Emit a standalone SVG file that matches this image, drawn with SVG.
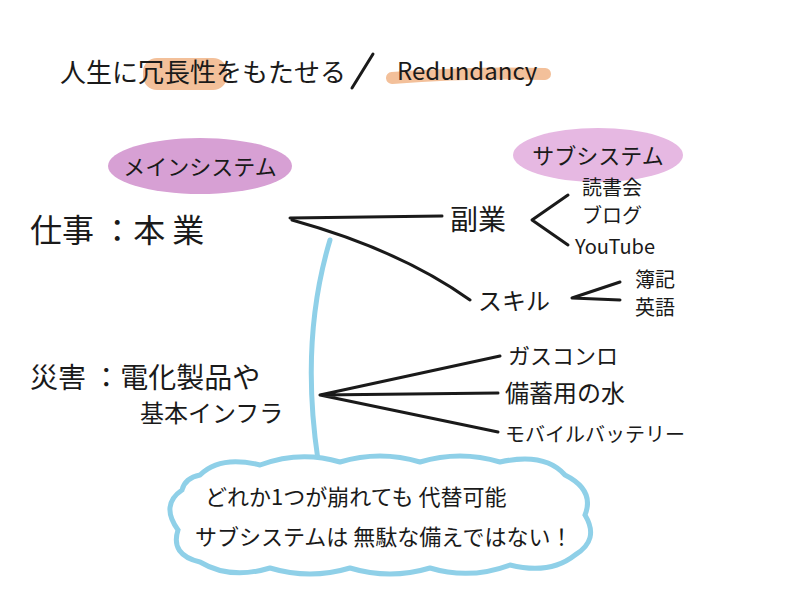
<svg xmlns="http://www.w3.org/2000/svg" width="800" height="600" viewBox="0 0 800 600">
<style>
.t{font-family:"Noto Sans CJK JP","Noto Sans",sans-serif;fill:#1a1a1a}
.l{stroke:#1a1a1a;stroke-width:3;fill:none;stroke-linecap:round;stroke-linejoin:round}
</style>
<rect width="800" height="600" fill="#fff"/>
<g id="title">
<rect x="143" y="58" width="84" height="32" rx="14" fill="#f3c09a"/>
<path d="M392 78 Q470 72 545 74" stroke="#f3c09a" stroke-width="12" fill="none" stroke-linecap="round"/>
<text class="t" x="60" y="82" font-size="26">人生に冗長性をもたせる</text>
<path class="l" d="M373 54 L352 88"/>
<text class="t" x="397" y="80" font-size="24">Redundancy</text>
</g>
<g id="main">
<ellipse cx="200" cy="166" rx="92" ry="28" fill="#d7a0d4"/>
<text class="t" x="200" y="175" font-size="22" text-anchor="middle">メインシステム</text>
</g>
<g id="sub">
<ellipse cx="598" cy="155" rx="85" ry="27" fill="#e6b8e2"/>
<text class="t" x="598" y="164" font-size="22" text-anchor="middle">サブシステム</text>
</g>
<g id="work"><text class="t" x="30" y="242" font-size="32">仕事 ：本 業</text></g>
<g id="side"><text class="t" x="450" y="230" font-size="28">副業</text></g>
<g id="side-items">
<text class="t" x="582" y="195" font-size="20">読書会</text>
<text class="t" x="582" y="223" font-size="20">ブログ</text>
<text class="t" x="575" y="254" font-size="20">YouTube</text>
</g>
<g id="skill"><text class="t" x="478" y="310" font-size="24">スキル</text></g>
<g id="skill-items">
<text class="t" x="635" y="287" font-size="20">簿記</text>
<text class="t" x="635" y="315" font-size="20">英語</text>
</g>
<g id="disaster">
<text class="t" x="30" y="388" font-size="28">災害 ：電化製品や</text>
<text class="t" x="140" y="422" font-size="24">基本インフラ</text>
</g>
<g id="disaster-items">
<text class="t" x="508" y="364" font-size="22">ガスコンロ</text>
<text class="t" x="505" y="402" font-size="24">備蓄用の水</text>
<text class="t" x="505" y="442" font-size="20">モバイルバッテリー</text>
</g>
<g id="connectors">
<path class="l" d="M290 218 L442 216"/>
<path class="l" d="M292 220 Q400 250 470 300"/>
<path class="l" d="M568 195 L532 220 L568 245"/>
<path class="l" d="M620 282 L572 298 L620 300"/>
<path class="l" d="M320 395 L500 356 M320 395 L498 393 M320 395 L498 432"/>
<path d="M330 240 Q300 340 318 460" stroke="#8fd0e8" stroke-width="5" fill="none" stroke-linecap="round"/>
</g>
<g id="cloud">
<path d="M200 475 Q220 455 260 465 Q300 450 340 462 Q380 450 420 462 Q460 450 500 462 Q545 452 565 475 Q595 490 585 515 Q600 540 575 555 Q550 575 510 565 Q470 580 430 568 Q390 580 350 568 Q310 580 270 568 Q230 580 200 562 Q170 555 178 530 Q160 505 182 490 Q185 478 200 475 Z" fill="#fff" stroke="#8fd0e8" stroke-width="5"/>
<text class="t" x="205" y="505" font-size="22">どれか1つが崩れても 代替可能</text>
<text class="t" x="195" y="545" font-size="22">サブシステムは 無駄な備えではない！</text>
</g>
</svg>
